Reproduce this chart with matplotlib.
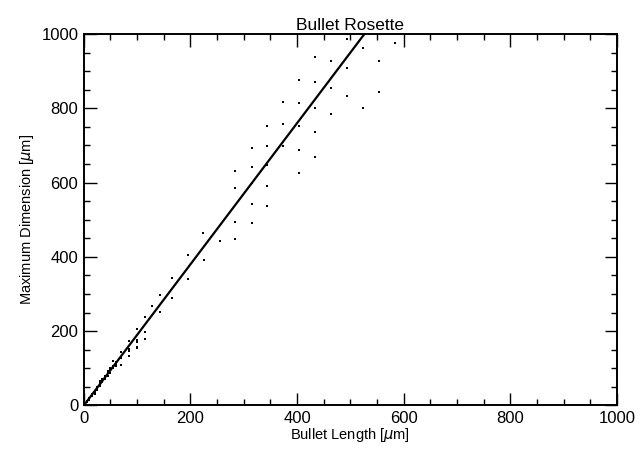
import numpy as np
import matplotlib.pyplot as plt
from matplotlib.ticker import MultipleLocator

plt.rcParams['font.family'] = ['Liberation Sans', 'DejaVu Sans']

# bullet length [um] and maximum dimension [um] for each measured rosette
bullet_length = [
    5, 5, 10, 10, 15, 15, 20, 20, 20, 25, 25, 25,
    30, 30, 30, 30, 35, 35, 35, 40, 40, 40, 45, 45, 45,
    50, 50, 50, 55, 55, 55, 60, 60, 60,
    69, 69, 69, 84, 84, 84, 84, 99, 99, 99, 99, 99,
    114, 114, 114, 128, 143, 143, 165, 165, 195, 195,
    223, 225, 255, 284, 284, 284, 284,
    315, 315, 315, 315, 315,
    343, 343, 343, 343, 343,
    373, 373, 373,
    403, 403, 403, 403, 403,
    433, 433, 433, 433, 433,
    463, 463, 463, 493, 493, 493,
    523, 523, 553, 553, 583,
]
max_dimension = [
    8, 12, 15, 20, 25, 30, 35, 40, 32, 45, 50, 42,
    52, 58, 62, 65, 62, 68, 72, 70, 76, 80, 80, 86, 92,
    88, 95, 100, 100, 107, 120, 105, 112, 118,
    108, 129, 144, 134, 147, 151, 174, 154, 156, 171, 175, 205,
    180, 199, 237, 267, 251, 298, 288, 343, 340, 404,
    464, 391, 442, 447, 493, 586, 631,
    492, 543, 599, 642, 692,
    536, 592, 646, 699, 753,
    699, 758, 817,
    625, 688, 751, 814, 876,
    669, 736, 802, 870, 938,
    784, 855, 926, 833, 909, 986,
    800, 961, 844, 928, 977,
]

# linear fit through the origin
fit_slope = 1.9
fit_x = np.array([0, 1000])

fig = plt.figure(figsize=(6.4, 4.53), dpi=100)
ax = fig.add_axes([0.131, 0.105, 0.833, 0.82])

ax.plot(bullet_length, max_dimension, 's', color='black', markersize=2.0,
        markeredgewidth=0)
ax.plot(fit_x, fit_slope * fit_x, color='black', linewidth=1.6)

ax.set_xlim(0, 1000)
ax.set_ylim(0, 1000)
ax.xaxis.set_major_locator(MultipleLocator(200))
ax.xaxis.set_minor_locator(MultipleLocator(50))
ax.yaxis.set_major_locator(MultipleLocator(200))
ax.yaxis.set_minor_locator(MultipleLocator(50))
ax.tick_params(which='both', direction='in', top=True, right=True,
               labelsize=12, width=1.0)
ax.tick_params(which='major', length=9, pad=4)
ax.tick_params(which='minor', length=4.5)
for sp in ax.spines.values():
    sp.set_linewidth(1.4)

ax.set_title('Bullet Rosette', fontsize=12.5, pad=3)
ax.set_xlabel(r'Bullet Length [$\mu$m]', fontsize=10.5, labelpad=0)
ax.set_ylabel(r'Maximum Dimension [$\mu$m]', fontsize=10.5, labelpad=4)

fig.savefig('out.png', dpi=100)
